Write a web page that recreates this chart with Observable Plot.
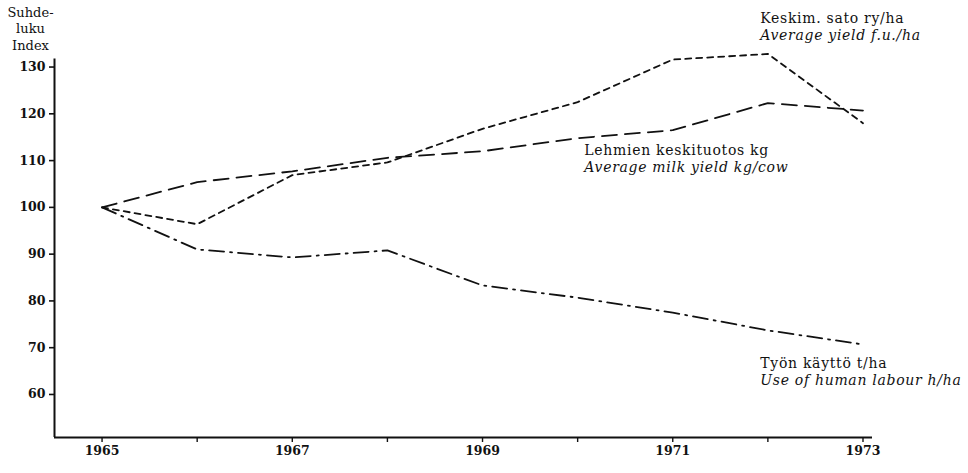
<!DOCTYPE html>
<html>
<head>
<meta charset="utf-8">
<script src="https://cdn.jsdelivr.net/npm/d3@7"></script>
<script src="https://cdn.jsdelivr.net/npm/@observablehq/plot@0.6"></script>
<style>
  html, body { margin: 0; padding: 0; background: #fff; }
  #chart svg { display: block; font-family: "DejaVu Serif", "Liberation Serif", serif; }
</style>
</head>
<body>
<div id="chart"></div>
<script>
const years = [1965, 1966, 1967, 1968, 1969, 1970, 1971, 1972, 1973];
const avgYield = [100, 96.4, 106.9, 109.6, 116.8, 122.5, 131.6, 132.8, 118.0];
const milkYield = [100, 105.4, 107.7, 110.6, 112.0, 114.8, 116.5, 122.3, 120.7];
const labourUse = [100, 91.0, 89.3, 90.8, 83.3, 80.7, 77.5, 73.7, 70.7];
const yTicks = [60, 70, 80, 90, 100, 110, 120, 130];
const xTicks = years;
const xLabels = [1965, 1967, 1969, 1971, 1973];
const labels = [
  {x: 1971.92, y: 140.4, text: "Keskim. sato ry/ha", italic: false},
  {x: 1971.92, y: 136.8, text: "Average yield f.u./ha", italic: true},
  {x: 1970.07, y: 112.2, text: "Lehmien keskituotos kg", italic: false},
  {x: 1970.07, y: 108.6, text: "Average milk yield kg/cow", italic: true},
  {x: 1971.92, y: 66.6, text: "Työn käyttö t/ha", italic: false},
  {x: 1971.92, y: 63.0, text: "Use of human labour h/ha", italic: true}
];

const series = (vals, name) => years.map((yr, i) => ({year: yr, value: vals[i], name}));
const xMin = 1964.5, xMax = 1973.1, yMin = 50.8, yMax = 131.4;
const font = "DejaVu Serif, Liberation Serif, serif";

const plot = Plot.plot({
  width: 968,
  height: 473,
  marginLeft: 54,
  marginRight: 96,
  marginTop: 60,
  marginBottom: 36,
  style: "font-family: 'DejaVu Serif', 'Liberation Serif', serif; font-size: 12.5px; color: #111; background: #fff; overflow: visible;",
  x: {domain: [xMin, xMax], axis: null},
  y: {domain: [yMin, yMax], axis: null},
  marks: [
    Plot.ruleX([xMin], {y1: yMin, y2: yMax + 0.3, stroke: "#111", strokeWidth: 2}),
    Plot.ruleY([yMin], {x1: xMin, x2: xMax, stroke: "#111", strokeWidth: 1.8}),
    Plot.axisY(yTicks, {anchor: "left", tickSize: 5, tickPadding: 4, fontWeight: "bold", fontSize: 12.5, fontFamily: font, stroke: "#111", strokeWidth: 1.6}),
    Plot.axisX(xTicks, {anchor: "bottom", tickSize: 5, text: null, tickFormat: () => "", stroke: "#111", strokeWidth: 1.4}),
    Plot.text(xLabels, {x: d => d, frameAnchor: "bottom", dy: 17, text: d => String(d), fontWeight: "bold", fontSize: 12.5, fontFamily: font, fill: "#111"}),
    Plot.text(["Suhde-\nluku\nIndex"], {frameAnchor: "top-left", dx: -24, dy: -56, textAnchor: "middle", lineAnchor: "top", lineHeight: 1.3, fontSize: 13, fontFamily: font, fill: "#111"}),
    Plot.line(series(avgYield, "avg"), {x: "year", y: "value", stroke: "#111", strokeWidth: 1.8, strokeDasharray: "6,5"}),
    Plot.line(series(milkYield, "milk"), {x: "year", y: "value", stroke: "#111", strokeWidth: 1.8, strokeDasharray: "15,8"}),
    Plot.line(series(labourUse, "labour"), {x: "year", y: "value", stroke: "#111", strokeWidth: 1.8, strokeDasharray: "15,6,2,6"}),
    Plot.text(labels.filter(d => !d.italic), {x: "x", y: "y", text: "text", textAnchor: "start", fontSize: 14, fontFamily: font, fill: "#111", className: "lbl"}),
    Plot.text(labels.filter(d => d.italic), {x: "x", y: "y", text: "text", textAnchor: "start", fontSize: 14, fontStyle: "italic", fontFamily: font, fill: "#111", className: "lbl"})
  ]
});
document.getElementById("chart").appendChild(plot);
// widen label glyph spacing to match the reference typeface
d3.select(plot).selectAll("g.lbl text, g.lbl tspan").style("letter-spacing", "0.7px");
</script>
</body>
</html>
